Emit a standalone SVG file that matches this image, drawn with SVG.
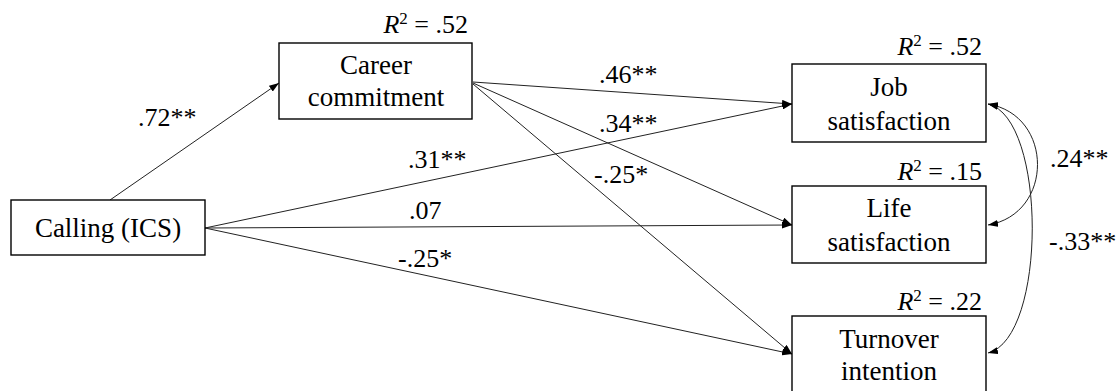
<svg xmlns="http://www.w3.org/2000/svg" width="1119" height="391" viewBox="0 0 1119 391">
<style>
.box{fill:#fff;stroke:#000;stroke-width:1.4}
.t{font-family:'Liberation Serif',serif;font-size:27px;fill:#000;text-anchor:middle}
.lbl{font-family:'Liberation Serif',serif;font-size:26px;fill:#000}
.r2{font-family:'Liberation Serif',serif;font-size:26px;fill:#000;text-anchor:end}
.ln{fill:none;stroke:#222;stroke-width:1}
</style>
<defs>
<marker id="ah" viewBox="0 0 10 7" refX="10" refY="3.5" markerWidth="10" markerHeight="7" markerUnits="userSpaceOnUse" orient="auto-start-reverse">
<path d="M0,0 L10,3.5 L0,7 z" fill="#000"/>
</marker>
</defs>
<rect width="1119" height="391" fill="#fff"/>
<g id="connectors" font-family="Liberation Serif">
<line class="ln" x1="110" y1="200" x2="279" y2="83" marker-end="url(#ah)"/>
<line class="ln" x1="205" y1="228" x2="792" y2="104" marker-end="url(#ah)"/>
<line class="ln" x1="205" y1="228" x2="792" y2="225" marker-end="url(#ah)"/>
<line class="ln" x1="205" y1="228" x2="792" y2="354" marker-end="url(#ah)"/>
<line class="ln" x1="473" y1="82" x2="792" y2="104" marker-end="url(#ah)"/>
<line class="ln" x1="473" y1="83" x2="792" y2="225" marker-end="url(#ah)"/>
<line class="ln" x1="473" y1="84" x2="792" y2="354" marker-end="url(#ah)"/>
<path class="ln" d="M988,104 C1054,115 1054,214 988,225" marker-start="url(#ah)" marker-end="url(#ah)"/>
<path class="ln" d="M988,104 C1047,118 1047,338 988,353" marker-start="url(#ah)" marker-end="url(#ah)"/>
<text class="lbl" x="138" y="126">.72**</text>
<text class="lbl" x="408" y="168">.31**</text>
<text class="lbl" x="599" y="83">.46**</text>
<text class="lbl" x="599" y="132">.34**</text>
<text class="lbl" x="594" y="183">-.25*</text>
<text class="lbl" x="409" y="219">.07</text>
<text class="lbl" x="398" y="267">-.25*</text>
<text class="lbl" x="1050" y="167">.24**</text>
<text class="lbl" x="1049" y="250">-.33**</text>
</g>
<g id="calling" font-family="Liberation Serif">
<rect class="box" x="11" y="200" width="194" height="55"/>
<text class="t" x="108" y="237">Calling (ICS)</text>
</g>
<g id="career" font-family="Liberation Serif">
<rect class="box" x="279" y="43" width="193" height="76"/>
<text class="t" x="376" y="74">Career</text>
<text class="t" x="376" y="106">commitment</text>
<text class="r2" x="468" y="33"><tspan font-style="italic">R</tspan><tspan dy="-9" font-size="17">2</tspan><tspan dy="9"> = .52</tspan></text>
</g>
<g id="job" font-family="Liberation Serif">
<rect class="box" x="792" y="64" width="194" height="78"/>
<text class="t" x="889" y="96">Job</text>
<text class="t" x="889" y="130">satisfaction</text>
<text class="r2" x="982" y="55"><tspan font-style="italic">R</tspan><tspan dy="-9" font-size="17">2</tspan><tspan dy="9"> = .52</tspan></text>
</g>
<g id="life" font-family="Liberation Serif">
<rect class="box" x="792" y="186" width="194" height="77"/>
<text class="t" x="889" y="217">Life</text>
<text class="t" x="889" y="251">satisfaction</text>
<text class="r2" x="982" y="180"><tspan font-style="italic">R</tspan><tspan dy="-9" font-size="17">2</tspan><tspan dy="9"> = .15</tspan></text>
</g>
<g id="turnover" font-family="Liberation Serif">
<rect class="box" x="792" y="316" width="194" height="78"/>
<text class="t" x="889" y="348">Turnover</text>
<text class="t" x="889" y="380">intention</text>
<text class="r2" x="982" y="310"><tspan font-style="italic">R</tspan><tspan dy="-9" font-size="17">2</tspan><tspan dy="9"> = .22</tspan></text>
</g>
</svg>
